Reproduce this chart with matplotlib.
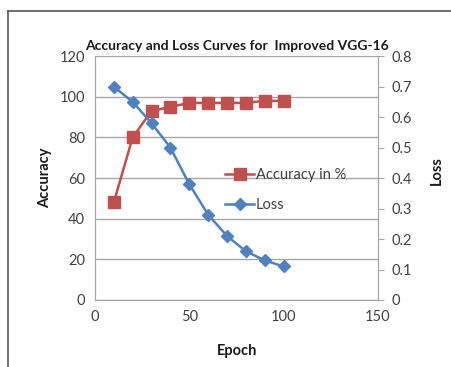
import matplotlib
matplotlib.use("Agg")
import matplotlib.pyplot as plt
from matplotlib.lines import Line2D

epochs = [10, 20, 30, 40, 50, 60, 70, 80, 90, 100]
accuracy = [48, 80, 93, 95, 97, 97, 97, 97, 98, 98]
loss = [0.70, 0.65, 0.58, 0.50, 0.38, 0.28, 0.21, 0.16, 0.13, 0.11]
acc_ticks = [0, 20, 40, 60, 80, 100, 120]
loss_ticks = [0, 0.1, 0.2, 0.3, 0.4, 0.5, 0.6, 0.7, 0.8]
loss_tick_labels = ["0", "0.1", "0.2", "0.3", "0.4", "0.5", "0.6", "0.7", "0.8"]
x_ticks = [0, 50, 100, 150]

plt.rcParams["font.family"] = ["Lato", "DejaVu Sans"]

RED = "#C0504D"
BLUE = "#4F81BD"
TICKC = "#404040"

fig = plt.figure(figsize=(4.52, 3.67), dpi=100)
ax = fig.add_axes([0.210, 0.1826, 0.626, 0.6644])
ax2 = ax.twinx()

ax.set_xlim(0, 150)
ax.set_ylim(0, 120)
ax2.set_ylim(0, 0.8)
ax.set_xticks(x_ticks)
ax.set_yticks(acc_ticks)
ax2.set_yticks(loss_ticks)
ax2.set_yticklabels(loss_tick_labels)

ax.yaxis.grid(True, color="#A6A6A6", linewidth=1.0)
ax.set_axisbelow(True)

for a in (ax, ax2):
    for s in a.spines.values():
        s.set_color("#A6A6A6")
    a.spines["top"].set_visible(False)
ax.tick_params(axis="both", length=0, labelsize=10.5, colors=TICKC, pad=7)
ax2.tick_params(axis="y", length=4, color="#A6A6A6", labelsize=10.5, labelcolor=TICKC, pad=6)

acc_line, = ax.plot(epochs, accuracy, color=RED, marker="s", markersize=8, linewidth=1.8,
                    label="Accuracy in %")
loss_line, = ax2.plot(epochs, loss, color=BLUE, marker="D", markersize=6.5, linewidth=1.8,
                      label="Loss")

ax2.legend(handles=[acc_line, loss_line], loc="upper left", bbox_to_anchor=(0.44, 0.565),
           frameon=False, fontsize=10.5, handlelength=2.0, handletextpad=0.1,
           labelspacing=1.1, borderaxespad=0, labelcolor="#404040")

fig.text(0.524, 0.875, "Accuracy and Loss Curves for  Improved VGG-16", ha="center",
         va="center", fontsize=10, fontweight="bold", color="#1a1a1a")
fig.text(0.099, 0.515, "Accuracy", rotation=90, ha="center", va="center",
         fontsize=10.5, fontweight="bold", color="#1a1a1a")
fig.text(0.967, 0.535, "Loss", rotation=90, ha="center", va="center",
         fontsize=10.5, fontweight="bold", color="#1a1a1a")
fig.text(0.524, 0.043, "Epoch", ha="center", va="center",
         fontsize=10.5, fontweight="bold", color="#1a1a1a")

fx = 8 / 452
fy = 1 - 11 / 367
fig.add_artist(Line2D([fx, fx], [0, fy], transform=fig.transFigure, color="#555555", linewidth=1.2))
fig.add_artist(Line2D([fx, 1], [fy, fy], transform=fig.transFigure, color="#555555", linewidth=1.2))

fig.savefig("out.png", dpi=100)
